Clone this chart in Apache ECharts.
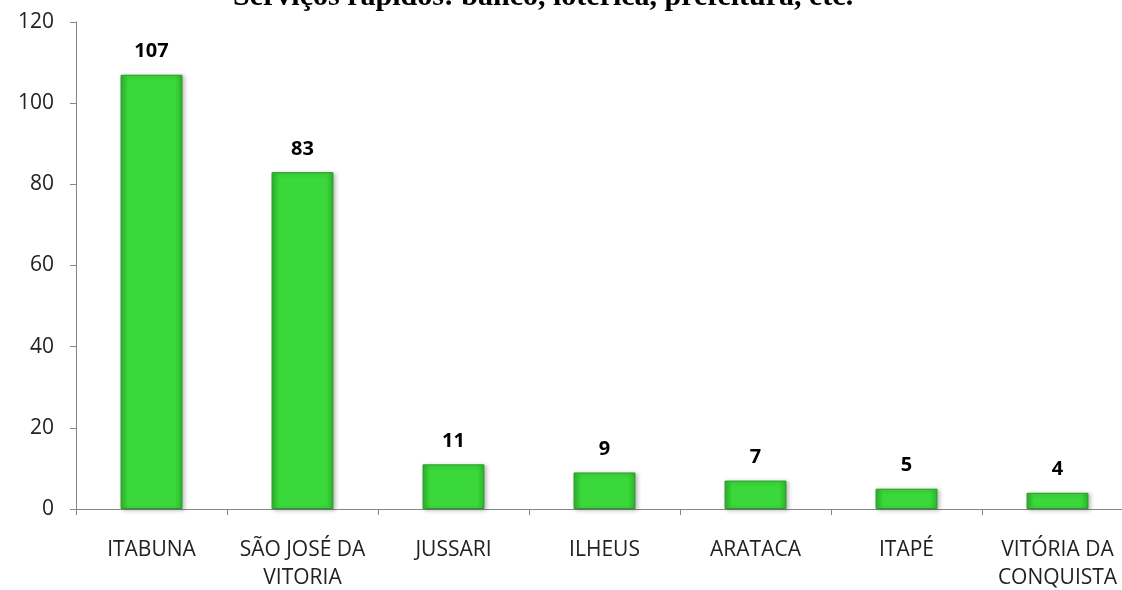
<!DOCTYPE html>
<html>
<head>
<meta charset="utf-8">
<script src="https://cdn.jsdelivr.net/npm/echarts@6/dist/echarts.min.js"></script>
<style>
  html, body { margin: 0; padding: 0; background: #fff; }
  #main { width: 1122px; height: 590px; }
</style>
</head>
<body>
<div id="main"></div>
<script>
// Data
const cities = ["ITABUNA", "SÃO JOSÉ DA\nVITORIA", "JUSSARI", "ILHEUS", "ARATACA", "ITAPÉ", "VITÓRIA DA\nCONQUISTA"];
const counts = [107, 83, 11, 9, 7, 5, 4];
const titleText = "Serviços rápidos: banco, lotérica, prefeitura, etc.";

const chart = echarts.init(document.getElementById("main"));

// horizontal gradient gives the bevelled look of the bars
const barColor = new echarts.graphic.LinearGradient(0, 0, 1, 0, [
  { offset: 0, color: "#2fb52f" },
  { offset: 0.12, color: "#3ad83a" },
  { offset: 0.88, color: "#3ad83a" },
  { offset: 1, color: "#2fb52f" },
]);

const option = {
  backgroundColor: "#fff",
  animation: false,
  title: {
    text: titleText,
    left: 228,
    top: -23,
    textStyle: {
      fontFamily: "Liberation Serif",
      fontWeight: "bold",
      fontSize: 30,
      color: "#000",
    },
  },
  grid: {
    left: 76,
    right: -11,
    top: 22,
    bottom: 81,
    outerBoundsMode: "none",
    containLabel: false,
  },
  xAxis: {
    type: "category",
    data: cities,
    axisLine: { lineStyle: { color: "#868686", width: 1 } },
    axisTick: { show: true, length: 6, lineStyle: { color: "#868686" } },
    axisLabel: {
      color: "#222",
      fontFamily: "Open Sans",
      fontSize: 21,
      lineHeight: 28,
      margin: 27,
      interval: 0,
    },
  },
  yAxis: {
    type: "value",
    min: 0,
    max: 120,
    interval: 20,
    splitLine: { show: false },
    axisLine: { show: true, lineStyle: { color: "#868686", width: 1 } },
    axisTick: { show: true, length: 6, lineStyle: { color: "#868686" } },
    axisLabel: {
      color: "#222",
      fontFamily: "Open Sans",
      fontSize: 21,
      margin: 22,
    },
  },
  series: [
    {
      type: "bar",
      data: counts,
      barWidth: "41%",
      itemStyle: {
        color: barColor,
        borderColor: "#2a9a2a",
        borderWidth: 1,
        shadowColor: "rgba(0,0,0,0.25)",
        shadowBlur: 4,
        shadowOffsetX: 2,
        shadowOffsetY: 1,
      },
      label: {
        show: true,
        position: "top",
        distance: 13,
        color: "#000",
        fontFamily: "Open Sans",
        fontWeight: "bold",
        fontSize: 20,
      },
    },
  ],
};

chart.setOption(option);
</script>
</body>
</html>
